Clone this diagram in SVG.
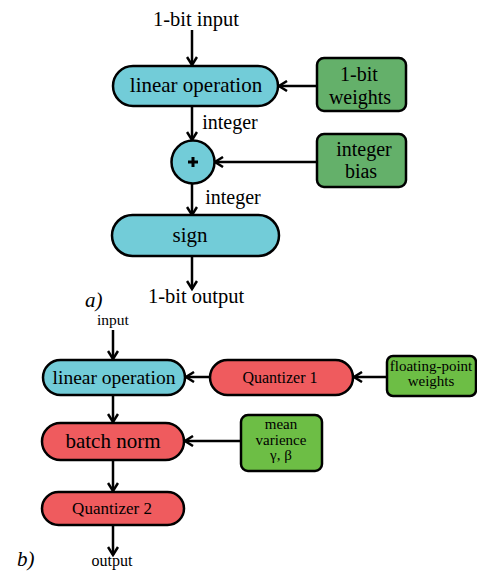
<svg xmlns="http://www.w3.org/2000/svg" width="477" height="572" viewBox="0 0 477 572">
<style>
.n{stroke:#000;stroke-width:2.5}
.cy{fill:#72ccd8}
.ga{fill:#64b06a}
.rd{fill:#ef5b5e}
.gb{fill:#6dbe45}
.t{font-family:"Liberation Serif","Times New Roman",serif;fill:#000;text-anchor:middle}
.i{font-family:"Liberation Serif","Times New Roman",serif;font-style:italic;fill:#000}
.c{stroke:#000;stroke-width:2.5;fill:none;marker-end:url(#ah)}
</style>
<defs>
<marker id="ah" viewBox="0 0 12 12" refX="10" refY="6" markerWidth="12" markerHeight="12" markerUnits="userSpaceOnUse" orient="auto">
<path d="M2,1 L10,6 L2,11" fill="none" stroke="#000" stroke-width="2.5"/>
</marker>
</defs>
<g id="connectors">
<line class="c" x1="192" y1="30" x2="192" y2="65"/>
<line class="c" x1="317" y1="86" x2="279" y2="86"/>
<line class="c" x1="192" y1="106" x2="192" y2="140"/>
<line class="c" x1="317" y1="162" x2="215" y2="162"/>
<line class="c" x1="192" y1="184" x2="192" y2="215"/>
<line class="c" x1="192" y1="256" x2="192" y2="289"/>
<line class="c" x1="113" y1="330" x2="113" y2="359"/>
<line class="c" x1="387" y1="377" x2="354" y2="377"/>
<line class="c" x1="210" y1="377" x2="186" y2="377"/>
<line class="c" x1="113" y1="395" x2="113" y2="422"/>
<line class="c" x1="241" y1="441" x2="185" y2="441"/>
<line class="c" x1="113" y1="460" x2="113" y2="491"/>
<line class="c" x1="113" y1="525" x2="113" y2="555"/>
</g>
<g id="label-input-a"><text class="t" x="196" y="26" font-size="20.5">1-bit input</text></g>
<g id="linop-a"><rect class="n cy" x="113" y="66" width="165" height="40" rx="20"/><text class="t" x="196" y="92" font-size="21">linear operation</text></g>
<g id="weights-a"><rect class="n ga" x="317" y="58" width="89" height="53" rx="7"/><text class="t" x="359" y="81" font-size="20">1-bit</text><text class="t" x="360" y="104" font-size="20">weights</text></g>
<g id="label-int1"><text class="t" x="230" y="129" font-size="20">integer</text></g>
<g id="sum"><circle class="n cy" cx="193" cy="162" r="21.5"/><path d="M188,162 H198 M193,157 V167" stroke="#000" stroke-width="3"/></g>
<g id="bias-a"><rect class="n ga" x="317" y="134" width="89" height="53" rx="7"/><text class="t" x="364" y="156" font-size="20">integer</text><text class="t" x="361" y="178" font-size="20">bias</text></g>
<g id="label-int2"><text class="t" x="233" y="204" font-size="20">integer</text></g>
<g id="sign"><rect class="n cy" x="112" y="215" width="167" height="41" rx="20.5"/><text class="t" x="190" y="242" font-size="21">sign</text></g>
<g id="label-output-a"><text class="t" x="196" y="303" font-size="20.5">1-bit output</text></g>
<g id="label-a"><text class="i" x="85" y="307" font-size="21">a)</text></g>
<g id="label-input-b"><text class="t" x="113" y="325" font-size="15.5">input</text></g>
<g id="linop-b"><rect class="n cy" x="43" y="360" width="142" height="35" rx="17.5"/><text class="t" x="114" y="384" font-size="19.5">linear operation</text></g>
<g id="quant1"><rect class="n rd" x="210" y="360" width="143" height="35" rx="17.5"/><text class="t" x="280" y="383" font-size="16">Quantizer 1</text></g>
<g id="fpweights"><rect class="n gb" x="387" y="356" width="89" height="40" rx="6"/><text class="t" x="431" y="371" font-size="15">floating-point</text><text class="t" x="431" y="386" font-size="15">weights</text></g>
<g id="bnparams"><rect class="n gb" x="241" y="415" width="81" height="56" rx="7"/><text class="t" x="281" y="429" font-size="15">mean</text><text class="t" x="281" y="444.5" font-size="15">varience</text><text class="t" x="281" y="460" font-size="15">γ, β</text></g>
<g id="batchnorm"><rect class="n rd" x="42" y="423" width="142" height="37" rx="18.5"/><text class="t" x="113" y="448" font-size="21">batch norm</text></g>
<g id="quant2"><rect class="n rd" x="42" y="492" width="142" height="33" rx="16.5"/><text class="t" x="112" y="514" font-size="17">Quantizer 2</text></g>
<g id="label-output-b"><text class="t" x="112" y="566" font-size="16">output</text></g>
<g id="label-b"><text class="i" x="17" y="566" font-size="21">b)</text></g>
</svg>
